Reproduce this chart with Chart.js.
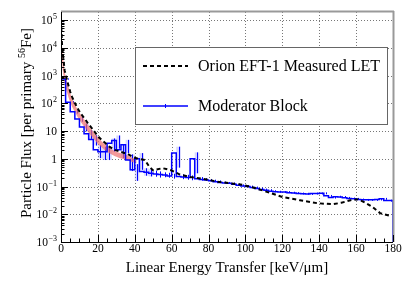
<!DOCTYPE html>
<html>
<head>
<meta charset="utf-8">
<script src="https://cdn.jsdelivr.net/npm/chart.js@4"></script>
<style>
html,body{margin:0;padding:0;background:#fff}
#c{display:block}
</style>
</head>
<body>
<canvas id="c" width="415" height="287"></canvas>
<script>
const SERIF = '"Liberation Serif", "Times New Roman", "DejaVu Serif", serif';

// x ticks / y decades
const xTicks = [0, 20, 40, 60, 80, 100, 120, 140, 160, 180];
const yDecades = [-3, -2, -1, 0, 1, 2, 3, 4, 5];

// Orion EFT-1 measured LET (black dashed)
const blackX = [0, 0.5, 1, 2, 3, 4, 5, 6, 7.6, 9, 11, 13, 14.6, 17, 20, 22, 24, 26, 29, 32, 36, 39, 42, 45.5, 48, 50,
  55, 60, 64.5, 70, 77, 84.5, 92, 99, 106, 112, 120, 129.5, 139, 147.5, 152, 157, 161, 165, 169, 173, 178.5];
const blackY = [1e5, 1.5e4, 6e3, 1.5e3, 800, 450, 260, 170, 100, 65, 40, 27, 19, 12, 6.5, 4.8, 3.7, 2.8, 2.1, 1.8, 1.5, 1.15, 1.0, 0.9, 0.5, 0.38,
  0.46, 0.38, 0.27, 0.22, 0.19, 0.15, 0.13, 0.113, 0.085, 0.063, 0.042, 0.032, 0.025, 0.023, 0.026, 0.032, 0.035, 0.026, 0.018, 0.011, 0.0087];

// error band of the measurement (red)
const redX  = [0, 0.5, 1, 2, 3, 4, 5, 6, 7.6, 9, 11, 13, 14.6, 17, 20, 22, 24, 26, 29, 32, 36, 39, 41];
const redHi = [9e4, 1.3e4, 5e3, 1.3e3, 700, 400, 230, 150, 90, 58, 36, 24, 17, 10.5, 5.8, 4.3, 3.3, 2.5, 1.9, 1.6, 1.35, 1.05, 0.95];
const redLo = [2e4, 4e3, 1.5e3, 500, 280, 170, 110, 75, 48, 32, 20, 13, 9.5, 6, 3.4, 2.6, 2.0, 1.6, 1.25, 1.05, 0.9, 0.75, 0.7];

// Moderator Block histogram, 2.5 keV/um bins from 0 to 180
const binWidth = 2.5;
const blueVal = [85000, 750, 110, 50, 27, 14, 8, 5, 2.1, 1.8, 1.8, 3.6, 4.6, 2.1, 3.2, 0.9, 0.4, 1.0,
  0.35, 0.33, 0.3, 0.28, 0.27, 0.26, 0.24, 1.6, 0.23, 0.22, 0.21, 1.0, 0.19, 0.18,
  0.17, 0.16, 0.15, 0.14, 0.135, 0.13, 0.12, 0.11, 0.105, 0.1, 0.092, 0.085, 0.078, 0.074,
  0.068, 0.065, 0.063, 0.063, 0.06, 0.058, 0.056, 0.055, 0.054, 0.056, 0.056, 0.057,
  0.046, 0.04, 0.043, 0.042, 0.039, 0.037, 0.036, 0.034, 0.033, 0.033, 0.033, 0.034, 0.036, 0.031];
// relative errors per bin
const blueErr = [0.01, 0.05, 0.1, 0.15, 0.2, 0.3, 0.35, 0.4, 0.5, 0.5, 0.5, 0.5, 0.5, 0.5, 0.5, 0.6, 0.6, 0.6,
  0.3, 0.3, 0.25, 0.25, 0.2, 0.2, 0.2, 0.7, 0.2, 0.2, 0.2, 0.7, 0.15, 0.12,
  0.1, 0.1, 0.1, 0.08, 0.08, 0.08, 0.08, 0.08, 0.08, 0.08, 0.08, 0.08, 0.08, 0.08,
  0.08, 0.08, 0.08, 0.08, 0.08, 0.08, 0.08, 0.08, 0.08, 0.08, 0.08, 0.08,
  0.08, 0.08, 0.08, 0.08, 0.08, 0.08, 0.08, 0.08, 0.08, 0.08, 0.08, 0.08, 0.08, 0.08];

const Y_MIN = 1e-3, Y_MAX = 1.95e5;

function toXY(xs, ys){ return xs.map((x,i)=>({x, y: ys[i]})); }

function histPoints(){
  const pts = [{x: 0, y: Y_MIN}];
  blueVal.forEach((v,i)=> pts.push({x: i*binWidth, y: v}));
  pts.push({x: blueVal.length*binWidth, y: blueVal[blueVal.length-1]});
  pts.push({x: blueVal.length*binWidth, y: Y_MIN});
  return pts;
}

function seg(ctx, x1, y1, x2, y2){
  ctx.beginPath(); ctx.moveTo(x1, y1); ctx.lineTo(x2, y2); ctx.stroke();
}

const rootStyle = {
  id: 'rootStyle',
  beforeDatasetsDraw(chart){
    const {ctx, chartArea: a, scales: {x, y}} = chart;
    ctx.save();
    // dotted grid
    ctx.strokeStyle = '#777';
    ctx.lineWidth = 1;
    ctx.setLineDash([1, 2]);
    xTicks.forEach(v => {
      if (v <= 0 || v >= 180) return;
      const px = Math.round(x.getPixelForValue(v)) + 0.5;
      seg(ctx, px, a.top, px, a.bottom);
    });
    yDecades.forEach(d => {
      if (d === -3) return;
      const py = Math.round(y.getPixelForValue(Math.pow(10, d))) + 0.5;
      seg(ctx, a.left, py, a.right, py);
    });
    ctx.setLineDash([]);
    // error boxes + bars for the histogram
    ctx.beginPath(); ctx.rect(a.left, a.top, a.right - a.left, a.bottom - a.top); ctx.clip();
    blueVal.forEach((v,i)=>{
      const e = v*blueErr[i];
      const x0 = x.getPixelForValue(i*binWidth), x1 = x.getPixelForValue((i+1)*binWidth);
      const yt = y.getPixelForValue(v + e), yb = y.getPixelForValue(Math.max(v - e, Y_MIN));
      ctx.fillStyle = 'rgba(110,110,255,0.28)';
      if (blueErr[i] >= 0.3) ctx.fillRect(x0, yt, x1 - x0, yb - yt);
      ctx.strokeStyle = '#0000ff';
      ctx.lineWidth = 1;
      const xm = Math.round((x0 + x1)/2) + 0.5;
      seg(ctx, xm, yt, xm, yb);
    });
    ctx.restore();
  },
  afterDatasetsDraw(chart){
    const {ctx, chartArea: a, scales: {x, y}} = chart;
    ctx.save();
    // frame
    ctx.strokeStyle = '#999'; ctx.lineWidth = 2;
    seg(ctx, a.left, a.top - 0.5, a.right + 1, a.top - 0.5);
    seg(ctx, a.right + 0.5, a.top - 1, a.right + 0.5, a.bottom);
    ctx.strokeStyle = '#000'; ctx.lineWidth = 1;
    seg(ctx, a.left + 0.5, a.top, a.left + 0.5, a.bottom + 0.5);
    seg(ctx, a.left, a.bottom + 0.5, a.right, a.bottom + 0.5);

    // x ticks
    for (let v = 0; v <= 180; v += 5){
      const px = Math.round(x.getPixelForValue(v)) + 0.5;
      const len = (v % 20 === 0) ? 7 : 3.5;
      seg(ctx, px, a.bottom, px, a.bottom - len);
    }
    // y ticks
    yDecades.forEach(d => {
      const base = Math.pow(10, d);
      const py = Math.round(y.getPixelForValue(base)) + 0.5;
      seg(ctx, a.left, py, a.left + 7, py);
      for (let m = 2; m <= 9; m++){
        const val = m*base;
        if (val > Y_MAX) break;
        const pm = Math.round(y.getPixelForValue(val)) + 0.5;
        seg(ctx, a.left, pm, a.left + 3.5, pm);
      }
    });

    // x labels
    ctx.fillStyle = '#000';
    ctx.font = '11.5px ' + SERIF;
    ctx.textAlign = 'center'; ctx.textBaseline = 'middle';
    xTicks.forEach(v => ctx.fillText(String(v), x.getPixelForValue(v), a.bottom + 7));

    // y labels: 10^d
    ctx.textBaseline = 'alphabetic';
    ctx.textAlign = 'left';
    const rightEdge = a.left - 4;
    yDecades.forEach(d => {
      const py = y.getPixelForValue(Math.pow(10, d));
      let main, sup = '';
      if (d === 0) main = '1';
      else if (d === 1) main = '10';
      else { main = '10'; sup = d < 0 ? '\u2212' + (-d) : String(d); }
      ctx.font = '11.5px ' + SERIF;
      const wm = ctx.measureText(main).width;
      ctx.font = '8px ' + SERIF;
      const ws = sup ? ctx.measureText(sup).width + 0.5 : 0;
      const x0 = rightEdge - wm - ws;
      ctx.font = '11.5px ' + SERIF;
      ctx.fillText(main, x0, py + 4);
      if (sup){
        ctx.font = '8px ' + SERIF;
        ctx.fillText(sup, x0 + wm + 0.5, py - 1);
      }
    });

    // x title
    ctx.font = '15px ' + SERIF;
    ctx.textAlign = 'center';
    ctx.fillText('Linear Energy Transfer [keV/\u03bcm]', (a.left + a.right)/2, 272);

    // y title, rotated, with superscript 56
    ctx.save();
    ctx.translate(31, (a.top + a.bottom)/2 - 4);
    ctx.rotate(-Math.PI/2);
    const p1 = 'Particle Flux [per primary ', p2 = '56', p3 = 'Fe]';
    ctx.font = '15px ' + SERIF;
    const w1 = ctx.measureText(p1).width, w3 = ctx.measureText(p3).width;
    ctx.font = '10px ' + SERIF;
    const w2 = ctx.measureText(p2).width;
    let cx = -(w1 + w2 + w3)/2;
    ctx.textAlign = 'left';
    ctx.font = '15px ' + SERIF;
    ctx.fillText(p1, cx, 0); cx += w1;
    ctx.font = '10px ' + SERIF;
    ctx.fillText(p2, cx, -6); cx += w2;
    ctx.font = '15px ' + SERIF;
    ctx.fillText(p3, cx, 0);
    ctx.restore();

    // legend
    const lx = 135.5, ly = 47.5, lw = 252, lh = 77;
    ctx.fillStyle = '#fff';
    ctx.fillRect(lx, ly, lw, lh);
    ctx.strokeStyle = '#666'; ctx.lineWidth = 1;
    ctx.strokeRect(lx, ly, lw, lh);
    ctx.strokeStyle = '#000'; ctx.lineWidth = 2; ctx.setLineDash([4, 3]);
    seg(ctx, 143, 66, 188, 66);
    ctx.setLineDash([]);
    ctx.strokeStyle = '#0000ff'; ctx.lineWidth = 1.5;
    seg(ctx, 143, 106, 188, 106);
    ctx.lineWidth = 1;
    seg(ctx, 165.5, 104, 165.5, 108);
    ctx.fillStyle = '#000';
    ctx.font = '16px ' + SERIF;
    ctx.textAlign = 'left'; ctx.textBaseline = 'alphabetic';
    ctx.fillText('Orion EFT-1 Measured LET', 198, 71);
    ctx.fillText('Moderator Block', 198, 111);
    ctx.restore();
  }
};

new Chart(document.getElementById('c'), {
  type: 'line',
  data: {
    datasets: [
      {
        label: 'Orion EFT-1 Measured LET',
        data: toXY(blackX, blackY),
        borderColor: '#000', borderWidth: 2, borderDash: [4, 3],
        pointRadius: 0, tension: 0, fill: false
      },
      {
        label: 'Moderator Block',
        data: histPoints(),
        borderColor: '#0000ff', borderWidth: 1.5,
        stepped: 'after', pointRadius: 0, fill: false
      },
      {
        label: 'band hi',
        data: toXY(redX, redHi),
        borderColor: 'rgba(0,0,0,0)', borderWidth: 0, pointRadius: 0, fill: false
      },
      {
        label: 'band lo',
        data: toXY(redX, redLo),
        borderColor: 'rgba(0,0,0,0)', borderWidth: 0, pointRadius: 0,
        fill: '-1', backgroundColor: 'rgba(238,110,110,0.7)'
      }
    ]
  },
  options: {
    responsive: false,
    animation: false,
    devicePixelRatio: 1,
    layout: { padding: { top: 12, right: 22, left: 0, bottom: 0 } },
    plugins: { legend: { display: false }, tooltip: { enabled: false } },
    scales: {
      x: {
        type: 'linear', min: 0, max: 180,
        ticks: { display: false }, grid: { display: false }, border: { display: false },
        afterFit(s){ s.height = 45; }
      },
      y: {
        type: 'logarithmic', min: Y_MIN, max: Y_MAX,
        ticks: { display: false }, grid: { display: false }, border: { display: false },
        afterFit(s){ s.width = 61; }
      }
    }
  },
  plugins: [rootStyle]
});
</script>
</body>
</html>
